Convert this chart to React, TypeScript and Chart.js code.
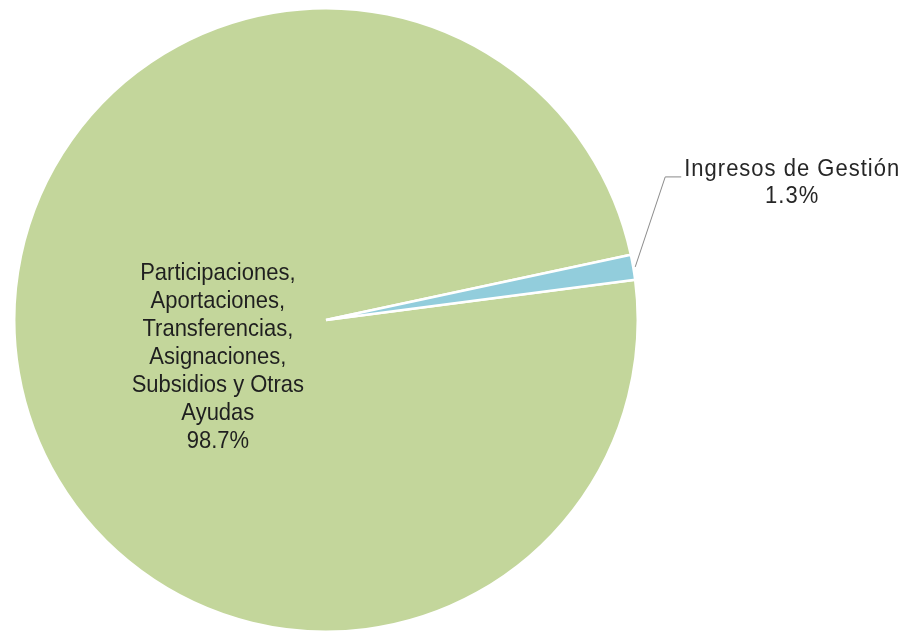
import React, { useEffect, useRef } from "react";
import { Chart, registerables } from "chart.js";

Chart.register(...registerables);

const categories: string[][] = [
  ["Participaciones,", "Aportaciones,", "Transferencias,", "Asignaciones,", "Subsidios y Otras", "Ayudas"],
  ["Ingresos de Gestión"],
];
const values: number[] = [98.7, 1.3];
const percentLabels: string[] = ["98.7%", "1.3%"];
const colors: string[] = ["#C3D69B", "#92CDDC"];

const FONT = '22px "Liberation Sans", Arial, sans-serif';
const LINE_H = 28;
const Y_STRETCH = 1.1;

function drawText(ctx: CanvasRenderingContext2D, t: string, x: number, y: number) {
  ctx.save();
  ctx.translate(x, y);
  ctx.scale(1, Y_STRETCH);
  ctx.fillText(t, 0, 0);
  ctx.restore();
}

const labelPlugin = {
  id: "pieLabels",
  afterDatasetsDraw(chart: any) {
    const ctx = chart.ctx as CanvasRenderingContext2D;
    const meta = chart.getDatasetMeta(0);
    ctx.save();
    ctx.font = FONT;
    ctx.textBaseline = "middle";
    ctx.textAlign = "center";
    // Big slice label (inside)
    {
      const arc = meta.data[0];
      const p = arc.getProps(["x", "y", "startAngle", "endAngle", "outerRadius"], true);
      const mid = (p.startAngle + p.endAngle) / 2;
      const r = p.outerRadius;
      const cx = p.x + Math.cos(mid) * r * 0.352;
      const cy = p.y + Math.sin(mid) * r * 0.352 + r * 0.06;
      const lines = [...categories[0], percentLabels[0]];
      const top = cy - ((lines.length - 1) * LINE_H) / 2;
      ctx.fillStyle = "#1f1f1f";
      lines.forEach((t, i) => drawText(ctx, t, cx, top + i * LINE_H));
    }
    // Small slice label (outside with leader line)
    {
      const arc = meta.data[1];
      const p = arc.getProps(["x", "y", "startAngle", "endAngle", "outerRadius"], true);
      const mid = (p.startAngle + p.endAngle) / 2;
      const r = p.outerRadius;
      const x0 = p.x + Math.cos(mid) * (r + 2);
      const y0 = p.y + Math.sin(mid) * (r + 2);
      const x1 = x0 + 30;
      const y1 = y0 - 90;
      const x2 = x1 + 16;
      ctx.strokeStyle = "#8a8a8a";
      ctx.lineWidth = 1;
      ctx.beginPath();
      ctx.moveTo(x0, y0);
      ctx.lineTo(x1, y1);
      ctx.lineTo(x2, y1);
      ctx.stroke();
      const lines = [...categories[1], percentLabels[1]];
      (ctx as any).letterSpacing = "1px";
      const w = ctx.measureText(lines[0]).width;
      const tcx = x2 + 3 + w / 2;
      ctx.fillStyle = "#262626";
      lines.forEach((t, i) => drawText(ctx, t, tcx, y1 - 8 + i * 27));
      (ctx as any).letterSpacing = "0px";
    }
    ctx.restore();
  },
};

export default function App() {
  const ref = useRef<HTMLCanvasElement | null>(null);
  useEffect(() => {
    if (!ref.current) return;
    const chart = new Chart(ref.current, {
      type: "pie",
      data: {
        labels: categories.map((c) => c.join(" ")),
        datasets: [
          {
            data: values,
            backgroundColor: colors,
            borderColor: "#ffffff",
            borderWidth: 2.5,
          },
        ],
      },
      options: {
        responsive: false,
        animation: false,
        rotation: 82.6,
        layout: { padding: { left: 0, right: 256, top: 7, bottom: 0 } },
        plugins: {
          legend: { display: false },
          tooltip: { enabled: false },
        },
      },
      plugins: [labelPlugin],
    });
    return () => chart.destroy();
  }, []);
  return (
    <div style={{ position: "absolute", left: 0, top: 0, width: 908, height: 633, background: "#fff" }}>
      <canvas ref={ref} width={908} height={633} />
    </div>
  );
}
